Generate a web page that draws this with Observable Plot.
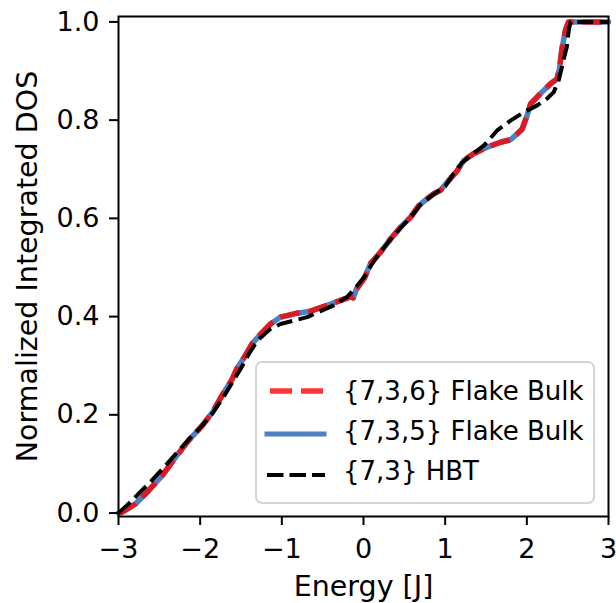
<!DOCTYPE html>
<html><head><meta charset="utf-8">
<script src="https://cdn.jsdelivr.net/npm/d3@7"></script>
<script src="https://cdn.jsdelivr.net/npm/@observablehq/plot@0.6"></script>
<style>
body{margin:0;background:#fff;}
#wrap{position:relative;width:616px;height:603px;font-family:"DejaVu Sans";}
#wrap svg{position:absolute;left:0;top:0;}
</style></head><body><div id="wrap"></div>
<script>
const seriesNames = ["{7,3,6} Flake Bulk", "{7,3,5} Flake Bulk", "{7,3} HBT"];
const seriesColors = ["red", "#4f80bf", "black"];
const xTicks = [-3, -2, -1, 0, 1, 2, 3];
const yTicks = [0, 0.2, 0.4, 0.6, 0.8, 1.0];

const energy736 = [-3, -2.955, -2.79, -2.63, -2.465, -2.30, -2.14, -1.975, -1.85, -1.73, -1.61, -1.547, -1.45, -1.363, -1.24, -1.139, -1.016, -0.812, -0.649, -0.445, -0.282, -0.16, -0.125, -0.09, 0.016, 0.086, 0.208, 0.331, 0.453, 0.576, 0.677, 0.78, 0.861, 0.943, 1.025, 1.065, 1.147, 1.228, 1.35, 1.515, 1.677, 1.80, 1.882, 1.943, 2.004, 2.045, 2.167, 2.29, 2.37, 2.40, 2.43, 2.473, 2.51, 3];
const dos736 = [0.0, 0.002, 0.019, 0.046, 0.076, 0.114, 0.148, 0.178, 0.205, 0.240, 0.272, 0.295, 0.320, 0.345, 0.368, 0.385, 0.399, 0.407, 0.411, 0.423, 0.433, 0.440, 0.438, 0.455, 0.480, 0.508, 0.531, 0.558, 0.582, 0.602, 0.626, 0.640, 0.650, 0.657, 0.674, 0.681, 0.697, 0.718, 0.732, 0.745, 0.755, 0.760, 0.772, 0.782, 0.810, 0.833, 0.854, 0.874, 0.884, 0.905, 0.945, 0.983, 1.0, 1.0];

const energy735 = [-3, -2.955, -2.79, -2.63, -2.465, -2.30, -2.14, -1.975, -1.85, -1.73, -1.61, -1.547, -1.45, -1.363, -1.24, -1.139, -1.016, -0.812, -0.649, -0.445, -0.282, -0.16, -0.125, -0.09, 0.016, 0.086, 0.208, 0.331, 0.453, 0.576, 0.677, 0.78, 0.861, 0.943, 1.025, 1.065, 1.147, 1.228, 1.35, 1.515, 1.677, 1.80, 1.882, 1.943, 2.004, 2.045, 2.167, 2.29, 2.37, 2.40, 2.43, 2.473, 2.51, 3];
const dos735 = [0.0, 0.002, 0.019, 0.046, 0.076, 0.114, 0.148, 0.178, 0.205, 0.240, 0.272, 0.295, 0.320, 0.345, 0.368, 0.385, 0.399, 0.407, 0.411, 0.423, 0.433, 0.440, 0.438, 0.455, 0.480, 0.508, 0.531, 0.558, 0.582, 0.602, 0.626, 0.640, 0.650, 0.657, 0.674, 0.681, 0.697, 0.718, 0.732, 0.745, 0.755, 0.760, 0.772, 0.782, 0.810, 0.833, 0.854, 0.874, 0.884, 0.905, 0.945, 0.983, 1.0, 1.0];

const energyHBT = [-3, -2.9, -2.75, -2.6, -2.45, -2.3, -2.14, -1.975, -1.85, -1.73, -1.61, -1.5, -1.4, -1.3, -1.139, -1.016, -0.853, -0.69, -0.527, -0.364, -0.2, -0.1, 0.016, 0.1, 0.2, 0.33, 0.45, 0.58, 0.7, 0.85, 1.0, 1.1, 1.2, 1.31, 1.473, 1.637, 1.80, 1.963, 2.127, 2.249, 2.33, 2.39, 2.43, 2.46, 2.49, 2.514, 2.535, 3];
const dosHBT = [0.0, 0.015, 0.040, 0.065, 0.092, 0.120, 0.150, 0.178, 0.203, 0.232, 0.265, 0.295, 0.325, 0.351, 0.375, 0.385, 0.392, 0.399, 0.411, 0.423, 0.440, 0.458, 0.482, 0.506, 0.530, 0.557, 0.580, 0.603, 0.628, 0.648, 0.665, 0.690, 0.712, 0.728, 0.748, 0.779, 0.799, 0.816, 0.830, 0.844, 0.857, 0.881, 0.908, 0.930, 0.949, 0.983, 1.0, 1.0];

const toRows = (xs, ys, s) => xs.map((x, i) => ({energy: x, dos: ys[i], series: s}));
const rows736 = toRows(energy736, dos736, seriesNames[0]);
const rows735 = toRows(energy735, dos735, seriesNames[1]);
const rowsHBT = toRows(energyHBT, dosHBT, seriesNames[2]);

const fmtX = d => d < 0 ? "\u2212" + Math.abs(d) : String(d);

const chart = Plot.plot({
  width: 616, height: 603,
  marginLeft: 118, marginRight: 8, marginTop: 16, marginBottom: 87,
  style: {fontFamily: "DejaVu Sans", fontSize: "27px", background: "white", color: "black"},
  x: {domain: [-3, 3]},
  y: {domain: [-0.007, 1.011]},
  marks: [
    Plot.line(rows735, {x: "energy", y: "dos", stroke: seriesColors[1], strokeWidth: 5.5}),
    Plot.line(rows736, {x: "energy", y: "dos", stroke: seriesColors[0], strokeOpacity: 0.8, strokeWidth: 5.5, strokeDasharray: "20,8.6", strokeLinecap: "butt"}),
    Plot.line(rowsHBT, {x: "energy", y: "dos", stroke: seriesColors[2], strokeWidth: 4, strokeDasharray: "16,6.5", strokeLinecap: "butt"}),
    Plot.axisX({ticks: xTicks, tickSize: 9, tickPadding: 13, tickFormat: fmtX, fontSize: 27, strokeWidth: 2, label: null}),
    Plot.axisX({ticks: [], tickSize: 0, fontSize: 28.5,
      label: "Energy [J]", labelAnchor: "center", labelOffset: 79, labelArrow: "none"}),
    Plot.axisY({ticks: yTicks, tickSize: 9, tickPadding: 10, tickFormat: d3.format(".1f"), fontSize: 27, strokeWidth: 2, label: null}),
    Plot.axisY({ticks: [], tickSize: 0, fontSize: 28.5,
      label: "Normalized Integrated DOS", labelAnchor: "center", labelOffset: 101.5, labelArrow: "none"}),
    Plot.frame({stroke: "black", strokeWidth: 2})
  ]
});
const wrap = document.getElementById("wrap");
wrap.appendChild(chart);

// legend overlay
const lg = d3.create("svg").attr("width", 616).attr("height", 603)
  .style("font-family", "DejaVu Sans").style("font-size", "26px");
lg.append("rect").attr("x", 256).attr("y", 362).attr("width", 338).attr("height", 141).attr("rx", 6)
  .attr("fill", "white").attr("fill-opacity", 0.8).attr("stroke", "#d4d4d4").attr("stroke-width", 2);
const legendRows = [
  {name: seriesNames[0], color: seriesColors[0], op: 0.8, w: 5.5, dash: "22,9", x1: 270, x2: 324, y: 391, cap: "butt", ty: 400},
  {name: seriesNames[1], color: seriesColors[1], op: 1, w: 5, dash: null, x1: 267, x2: 324, y: 434, cap: "square", ty: 440},
  {name: seriesNames[2], color: seriesColors[2], op: 1, w: 4, dash: "16.5,6", x1: 267, x2: 325, y: 475, cap: "butt", ty: 480}
];
for (const r of legendRows) {
  const l = lg.append("line").attr("x1", r.x1).attr("x2", r.x2).attr("y1", r.y).attr("y2", r.y)
    .attr("stroke", r.color).attr("stroke-opacity", r.op).attr("stroke-width", r.w).attr("stroke-linecap", r.cap);
  if (r.dash) l.attr("stroke-dasharray", r.dash);
  lg.append("text").attr("x", 343).attr("y", r.ty).attr("fill", "black").text(r.name);
}
wrap.appendChild(lg.node());
</script></body></html>
